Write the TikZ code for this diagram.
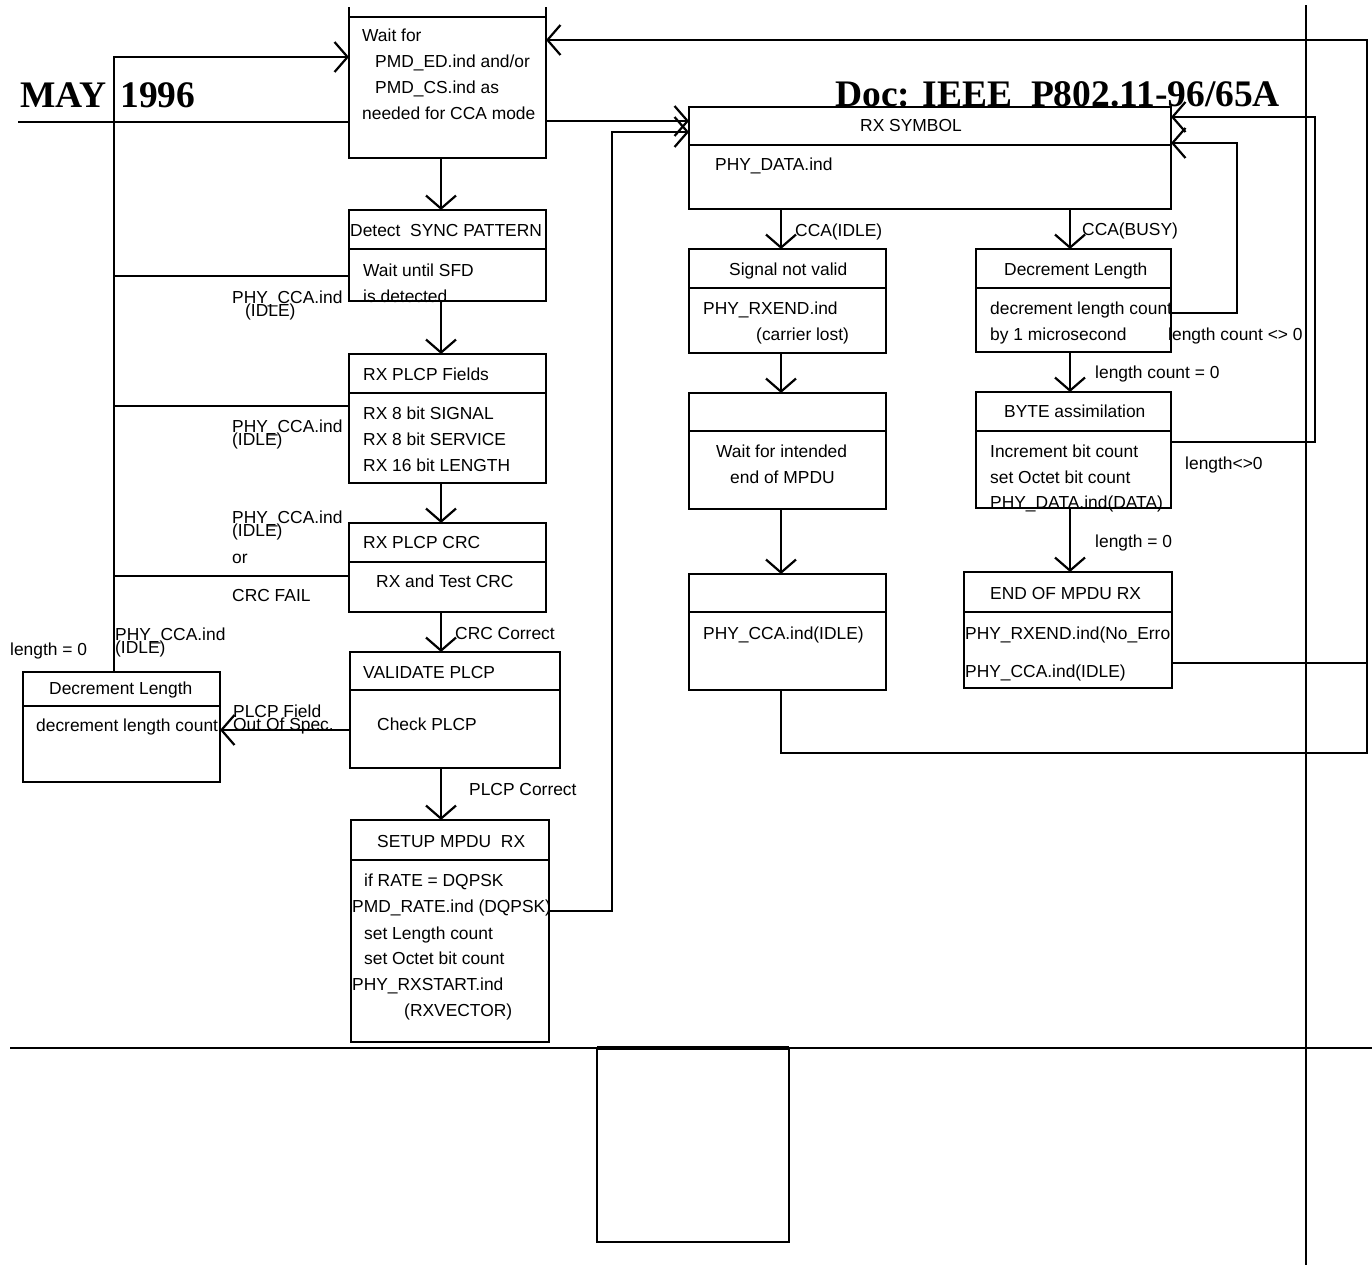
\documentclass[tikz,border=0pt]{standalone}
\usepackage{fontspec}
\setmainfont{Liberation Sans}
\newfontfamily\hdrfont{Liberation Serif}
\usetikzlibrary{arrows.meta}
\newcommand\mybox[5]{\node[box, minimum width={(#4-#2)*1pt}, minimum height={(#5-#3)*1pt}] (#1) at ({(#2+#4)/2},{(#3+#5)/2}) {};}
\newcommand\mydiv[2]{\draw[divl] (#1.west |- 0,#2) -- (#1.east |- 0,#2);}
\begin{document}
\begin{tikzpicture}[x=1pt,y=-1pt,
 box/.style={draw, line width=2.3pt, fill=white, inner sep=0pt, outer sep=0pt},
 divl/.style={line width=2.3pt},
 conn/.style={line width=2.2pt},
 arr/.style={conn, -{Straight Barb[length=13pt,width=30pt]}},
 txt/.style={anchor=base west, inner sep=0pt, font=\fontsize{17.4}{20}\selectfont},
 hdr/.style={anchor=base west, inner sep=0pt, font=\hdrfont\bfseries\fontsize{37.5}{40}\selectfont}]
\useasboundingbox (0,0) rectangle (1372,1270);
\fill[white] (0,0) rectangle (1372,1270);

% header / footer
\node[hdr] (hdrL) at (20,107) {MAY\hspace{14pt}1996};
\node[hdr] (hdrR) at (835,106) {Doc: IEEE\ \ P802.11-96/65A};
\draw[line width=2.8pt] (10,1048) -- (1372,1048);
\draw[line width=2pt] (1306,5) -- (1306,1265);

% helper coordinates
\coordinate (xC) at (441,0);
\coordinate (xL) at (781,0);
\coordinate (xR) at (1070,0);
\coordinate (lv) at (114,57);
\coordinate (h2) at (114,276);
\coordinate (h3) at (114,406);
\coordinate (h4) at (114,576);
\coordinate (h5) at (300,730);
\coordinate (hr) at (18,122);
\coordinate (c12) at (600,121);
\coordinate (s11a) at (612,911);
\coordinate (s11b) at (612,132);
\coordinate (rb) at (1367,753);
\coordinate (rt) at (1367,40);
\coordinate (e15) at (1367,663);
\coordinate (d17a) at (1237,313);
\coordinate (d17b) at (1237,143);
\coordinate (b18a) at (1315,442);
\coordinate (b18b) at (1315,117);

% boxes
\mybox{wait}{349}{17}{546}{158}
\draw[divl] (wait.north west) -- ++(0,-10);
\draw[divl] (wait.north east) -- ++(0,-10);
\mybox{sync}{349}{210}{546}{301} \mydiv{sync}{249}
\mybox{fields}{349}{354}{546}{483} \mydiv{fields}{393}
\mybox{crc}{349}{523}{546}{612} \mydiv{crc}{562}
\mybox{validate}{350}{652}{560}{768} \mydiv{validate}{690}
\mybox{setup}{351}{820}{549}{1042} \mydiv{setup}{860}
\mybox{declen}{23}{672}{220}{782} \mydiv{declen}{706}
\mybox{rxsym}{689}{107}{1171}{209} \mydiv{rxsym}{145}
\mybox{notvalid}{689}{249}{886}{353} \mydiv{notvalid}{288}
\mybox{waitend}{689}{393}{886}{509} \mydiv{waitend}{431}
\mybox{ccaidle}{689}{574}{886}{690} \mydiv{ccaidle}{612}
\mybox{declentwo}{976}{249}{1171}{352} \mydiv{declentwo}{288}
\mybox{byte}{976}{392}{1171}{508} \mydiv{byte}{431}
\mybox{endmpdu}{964}{572}{1172}{688} \mydiv{endmpdu}{612}
\mybox{pagebox}{597}{1048}{789}{1242}
\draw[line width=4pt] (pagebox.north west) -- (pagebox.north east);

% connectors
\draw[conn] (hr) -- (hr -| wait.west);
\draw[arr] (declen.north -| lv) -- (lv) -- (lv -| wait.west);
\draw[conn] (h2 -| sync.west) -- (h2);
\draw[conn] (h3 -| fields.west) -- (h3);
\draw[conn] (h4 -| crc.west) -- (h4);
\draw[arr] (h5 -| validate.west) -- (h5 -| declen.east);
\draw[arr] (wait.south -| xC) -- (sync.north -| xC);
\draw[arr] (sync.south -| xC) -- (fields.north -| xC);
\draw[arr] (fields.south -| xC) -- (crc.north -| xC);
\draw[arr] (crc.south -| xC) -- (validate.north -| xC);
\draw[arr] (validate.south -| xC) -- (setup.north -| xC);
\draw[arr] (s11a -| setup.east) -- (s11a) -- (s11b) -- (s11b -| rxsym.west);
\draw[arr] (c12 -| wait.east) -- (c12 -| rxsym.west);
\draw[arr] (rxsym.south -| xL) -- (notvalid.north -| xL);
\draw[arr] (notvalid.south -| xL) -- (waitend.north -| xL);
\draw[arr] (waitend.south -| xL) -- (ccaidle.north -| xL);
\draw[arr] (ccaidle.south -| xL) |- (rb) -- (rt) -- (rt -| wait.east);
\draw[conn] (e15 -| endmpdu.east) -- (e15);
\draw[arr] (rxsym.south -| xR) -- (declentwo.north -| xR);
\draw[arr] (declentwo.south -| xR) -- (byte.north -| xR);
\draw[arr] (byte.south -| xR) -- (endmpdu.north -| xR);
\draw[arr] (d17a -| declentwo.east) -- (d17a) -- (d17b) -- (d17b -| rxsym.east);
\draw[arr] (b18a -| byte.east) -- (b18a) -- (b18b) -- (b18b -| rxsym.east);

% box texts
\node[txt] (t1) at (362,41) {Wait for};
\node[txt] (t2) at (375,67) {PMD\_ED.ind and/or};
\node[txt] (t3) at (375,93) {PMD\_CS.ind as};
\node[txt] (t4) at (362,119) {needed for CCA mode};
\node[txt] (t5) at (350,236) {Detect\ \ SYNC PATTERN};
\node[txt] (t6) at (363,276) {Wait until SFD};
\node[txt] (t7) at (363,302) {is detected};
\node[txt] (t8) at (363,380) {RX PLCP Fields};
\node[txt] (t9) at (363,419) {RX 8 bit SIGNAL};
\node[txt] (t10) at (363,445) {RX 8 bit SERVICE};
\node[txt] (t11) at (363,471) {RX 16 bit LENGTH};
\node[txt] (t12) at (363,548) {RX PLCP CRC};
\node[txt] (t13) at (376,587) {RX and Test CRC};
\node[txt] (t14) at (363,678) {VALIDATE PLCP};
\node[txt] (t15) at (377,730) {Check PLCP};
\node[txt] (t16) at (377,847) {SETUP MPDU\ \ RX};
\node[txt] (t17) at (364,886) {if RATE = DQPSK};
\begin{scope}
\clip (setup.north west) rectangle (setup.south east);
\node[txt] (t18) at (352,912) {PMD\_RATE.ind (DQPSK)};
\end{scope}
\node[txt] (t19) at (364,939) {set Length count};
\node[txt] (t20) at (364,964) {set Octet bit count};
\node[txt] (t21) at (352,990) {PHY\_RXSTART.ind};
\node[txt] (t22) at (404,1016) {(RXVECTOR)};
\node[txt] (t23) at (49,694) {Decrement Length};
\node[txt] (t24) at (36,731) {decrement length count};
\node[txt] (t25) at (860,131) {RX SYMBOL};
\node[txt] (t26) at (715,170) {PHY\_DATA.ind};
\node[txt] (t27) at (729,275) {Signal not valid};
\node[txt] (t28) at (703,314) {PHY\_RXEND.ind};
\node[txt] (t29) at (756,340) {(carrier lost)};
\node[txt] (t30) at (716,457) {Wait for intended};
\node[txt] (t31) at (730,483) {end of MPDU};
\node[txt] (t32) at (703,639) {PHY\_CCA.ind(IDLE)};
\node[txt] (t33) at (1004,275) {Decrement Length};
\node[txt] (t34) at (990,314) {decrement length count};
\node[txt] (t35) at (990,340) {by 1 microsecond};
\node[txt] (t36) at (1004,417) {BYTE assimilation};
\node[txt] (t37) at (990,457) {Increment bit count};
\node[txt] (t38) at (990,483) {set Octet bit count};
\node[txt] (t39) at (990,508) {PHY\_DATA.ind(DATA)};
\node[txt] (t40) at (990,599) {END OF MPDU RX};
\begin{scope}
\clip (endmpdu.north west) rectangle (endmpdu.south east);
\node[txt] (t41) at (965,639) {PHY\_RXEND.ind(No\_Error)};
\end{scope}
\node[txt] (t42) at (965,677) {PHY\_CCA.ind(IDLE)};

% connector labels
\node[txt] (l1) at (232,303) {PHY\_CCA.ind};
\node[txt] (l2) at (245,316) {(IDLE)};
\node[txt] (l3) at (232,432) {PHY\_CCA.ind};
\node[txt] (l4) at (232,445) {(IDLE)};
\node[txt] (l5) at (232,523) {PHY\_CCA.ind};
\node[txt] (l6) at (232,536) {(IDLE)};
\node[txt] (l7) at (232,563) {or};
\node[txt] (l8) at (232,601) {CRC FAIL};
\node[txt] (l9) at (115,640) {PHY\_CCA.ind};
\node[txt] (l10) at (115,653) {(IDLE)};
\node[txt] (l11) at (10,655) {length = 0};
\node[txt] (l12) at (233,717) {PLCP Field};
\node[txt] (l13) at (233,730) {Out Of Spec.};
\node[txt] (l14) at (455,639) {CRC Correct};
\node[txt] (l15) at (469,795) {PLCP Correct};
\node[txt] (l16) at (795,236) {CCA(IDLE)};
\node[txt] (l17) at (1082,235) {CCA(BUSY)};
\node[txt] (l18) at (1168,340) {length count <> 0};
\node[txt] (l19) at (1095,378) {length count = 0};
\node[txt] (l20) at (1185,469) {length<>0};
\node[txt] (l21) at (1095,547) {length = 0};
\end{tikzpicture}
\end{document}
